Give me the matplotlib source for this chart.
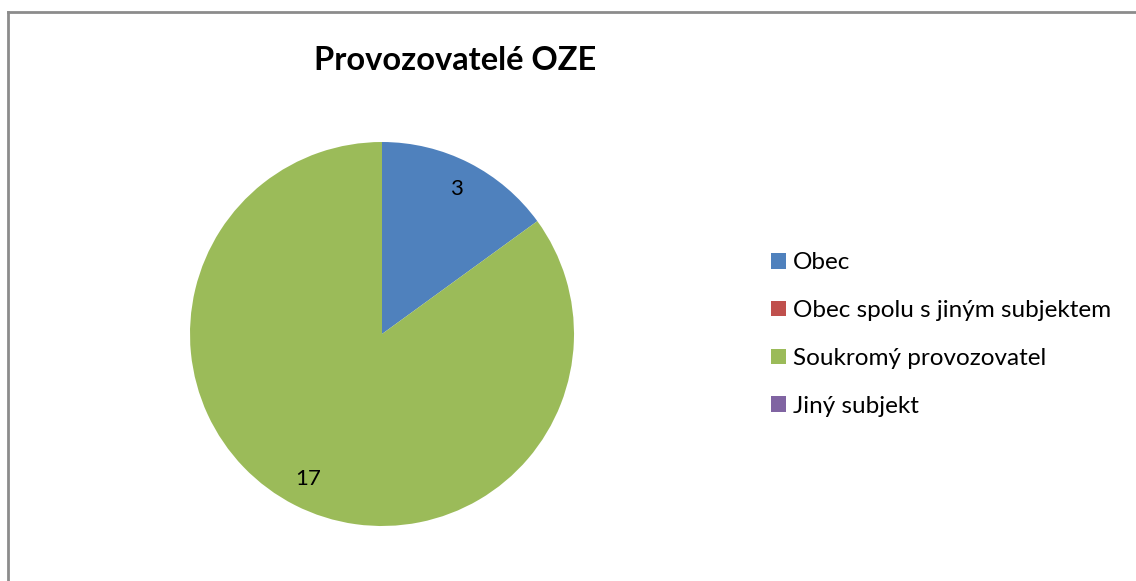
import matplotlib.pyplot as plt
import numpy as np
from matplotlib.lines import Line2D
from matplotlib.patches import Patch

categories = ['Obec', 'Obec spolu s jiným subjektem', 'Soukromý provozovatel', 'Jiný subjekt']
values = [3, 0, 17, 0]
colors = ['#4F81BD', '#C0504D', '#9BBB59', '#8064A2']
title = 'Provozovatelé OZE'

plt.rcParams['font.family'] = ['Lato', 'DejaVu Sans']

W, H = 1136, 581
fig = plt.figure(figsize=(W / 100, H / 100), dpi=100)

# frame of the chart area (only left and top edges visible)
fig.add_artist(Line2D([7.5 / W, 7.5 / W], [0, 1 - 11.5 / H], transform=fig.transFigure,
                      color='#8c8c8c', lw=2))
fig.add_artist(Line2D([7.5 / W, 1], [1 - 11.5 / H, 1 - 11.5 / H], transform=fig.transFigure,
                      color='#8c8c8c', lw=2))

cx, cy, r = 382, 334, 192
ax = fig.add_axes([(cx - r) / W, (H - cy - r) / H, 2 * r / W, 2 * r / H])
wedges, _ = ax.pie(values, colors=colors, startangle=90, counterclock=False,
                   wedgeprops=dict(linewidth=0))
ax.set_xlim(-1, 1)
ax.set_ylim(-1, 1)
ax.set_aspect('equal')

# data labels for non-zero slices
total = sum(values)
start = 90.0
for v in values:
    ang = start - 360.0 * v / total / 2
    if v > 0:
        ax.text(0.85 * np.cos(np.radians(ang)), 0.85 * np.sin(np.radians(ang)), str(v),
                ha='center', va='center', fontsize=16)
    start -= 360.0 * v / total

fig.text(455 / W, 1 - 60 / H, title, ha='center', va='center', fontsize=23.5, fontweight='bold')

handles = [Patch(facecolor=c, edgecolor='none') for c in colors]
fig.legend(handles, categories, loc='center left', bbox_to_anchor=(771 / W, 1 - 334.5 / H),
           frameon=False, fontsize=17.5, handlelength=0.6, handleheight=0.6,
           handletextpad=0.3, labelspacing=1.1, borderpad=0, borderaxespad=0)

fig.savefig('out.png', dpi=100, facecolor='white')
